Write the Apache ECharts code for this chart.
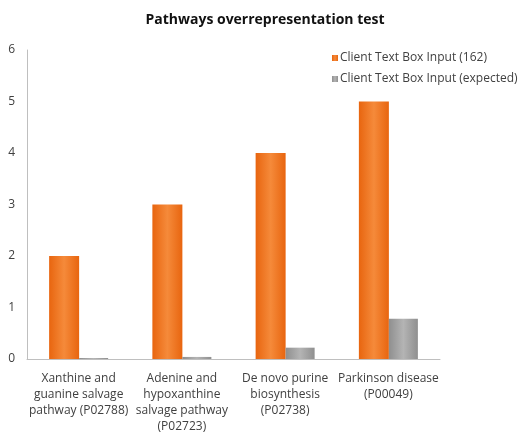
<!DOCTYPE html>
<html>
<head>
<meta charset="utf-8">
<script src="https://cdn.jsdelivr.net/npm/echarts@6/dist/echarts.min.js"></script>
<style>
  html, body { margin: 0; padding: 0; background: #fff; }
  #chart { width: 530px; height: 439px; }
</style>
</head>
<body>
<div id="chart"></div>
<script>
"use strict";
const categories = [
    'Xanthine and\nguanine salvage\npathway (P02788)',
    'Adenine and\nhypoxanthine\nsalvage pathway\n(P02723)',
    'De novo purine\nbiosynthesis\n(P02738)',
    'Parkinson disease\n(P00049)'
];
const observed = [2, 3, 4, 5];
const expected = [0.02, 0.04, 0.22, 0.78];
const seriesNames = ['Client Text Box Input (162)', 'Client Text Box Input (expected)'];

const chart = echarts.init(document.getElementById('chart'));

function barGradient(edge, mid) {
    return new echarts.graphic.LinearGradient(0, 0, 1, 0, [
        { offset: 0, color: edge },
        { offset: 0.5, color: mid },
        { offset: 1, color: edge }
    ]);
}

const option = {
    animation: false,
    textStyle: { fontFamily: 'Open Sans, sans-serif' },
    title: {
        text: 'Pathways overrepresentation test',
        left: 'center',
        top: 8,
        textStyle: { fontSize: 14, fontWeight: 'bold', color: '#111' }
    },
    legend: {
        orient: 'vertical',
        left: 327,
        top: 45,
        itemWidth: 6,
        itemHeight: 6,
        itemGap: 5,
        icon: 'rect',
        textStyle: { fontSize: 12, color: '#404040', padding: [0, 0, 0, -3], lineHeight: 16 },
        data: seriesNames
    },
    grid: { left: 27, right: 90, top: 50, bottom: 80 },
    xAxis: {
        type: 'category',
        data: categories,
        axisLine: { lineStyle: { color: '#bfbfbf' } },
        axisTick: { show: false },
        axisLabel: {
            interval: 0,
            fontSize: 12,
            color: '#404040',
            lineHeight: 16,
            margin: 12
        }
    },
    yAxis: {
        type: 'value',
        min: 0,
        max: 6,
        interval: 1,
        axisLine: { show: true, lineStyle: { color: '#bfbfbf' } },
        axisTick: { show: false },
        splitLine: { show: false },
        axisLabel: { fontSize: 12, color: '#404040', margin: 12 }
    },
    series: [
        {
            name: seriesNames[0],
            type: 'bar',
            data: observed,
            barWidth: 30,
            barGap: '0%',
            itemStyle: { color: barGradient('#e8650f', '#f58a3a') }
        },
        {
            name: seriesNames[1],
            type: 'bar',
            data: expected,
            barWidth: 29,
            itemStyle: { color: barGradient('#8f8f8f', '#b4b4b4') }
        }
    ]
};
chart.setOption(option);
</script>
</body>
</html>
